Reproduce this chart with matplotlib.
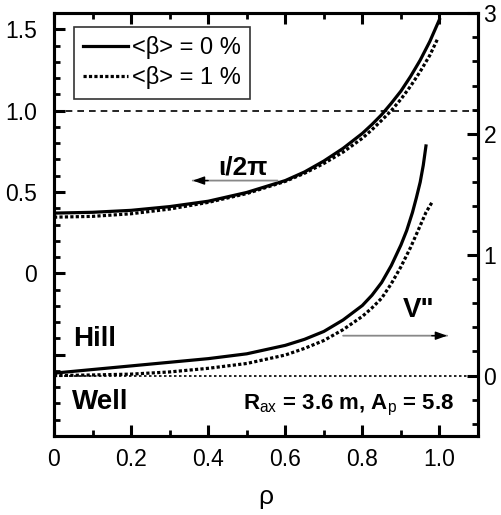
import matplotlib
matplotlib.use("Agg")
import matplotlib.pyplot as plt
from matplotlib.ticker import MultipleLocator

plt.rcParams['font.family'] = ['Liberation Sans', 'DejaVu Sans']
plt.rcParams['mathtext.fontset'] = 'custom'
plt.rcParams['mathtext.rm'] = 'Liberation Sans'
plt.rcParams['mathtext.bf'] = 'Liberation Sans:bold'

# iota/2pi (left axis)
rho_iota0 = [0, 0.1, 0.2, 0.3, 0.4, 0.5, 0.6, 0.65, 0.7, 0.75, 0.8, 0.825, 0.85, 0.875, 0.9, 0.925, 0.95, 0.975, 1.0]
iota0 = [0.37, 0.375, 0.387, 0.41, 0.443, 0.497, 0.57, 0.623, 0.69, 0.768, 0.86, 0.915, 0.975, 1.045, 1.12, 1.21, 1.31, 1.425, 1.56]
rho_iota1 = [0, 0.1, 0.2, 0.3, 0.4, 0.5, 0.6, 0.65, 0.7, 0.75, 0.8, 0.825, 0.85, 0.875, 0.9, 0.925, 0.95, 0.975, 0.995]
iota1 = [0.345, 0.35, 0.366, 0.395, 0.436, 0.49, 0.565, 0.615, 0.675, 0.745, 0.83, 0.883, 0.94, 1.0, 1.07, 1.15, 1.24, 1.34, 1.44]

# V'' (right axis)
rho_v0 = [0, 0.1, 0.2, 0.3, 0.4, 0.5, 0.6, 0.65, 0.7, 0.75, 0.8, 0.825, 0.85, 0.875, 0.9, 0.915, 0.93, 0.94, 0.95, 0.958, 0.965]
v0 = [0.02, 0.05, 0.08, 0.11, 0.14, 0.18, 0.25, 0.30, 0.365, 0.46, 0.58, 0.665, 0.77, 0.91, 1.08, 1.2, 1.35, 1.47, 1.6, 1.74, 1.9]
rho_v1 = [0, 0.1, 0.2, 0.3, 0.4, 0.5, 0.6, 0.65, 0.7, 0.75, 0.8, 0.825, 0.85, 0.875, 0.9, 0.925, 0.95, 0.965, 0.98]
v1 = [0.0, 0.005, 0.012, 0.03, 0.06, 0.10, 0.17, 0.225, 0.29, 0.38, 0.49, 0.56, 0.64, 0.76, 0.9, 1.06, 1.24, 1.35, 1.43]

labels = ['<β> = 0 %', '<β> = 1 %']
x_ticks = [0, 0.2, 0.4, 0.6, 0.8, 1.0]
x_ticklabels = ['0', '0.2', '0.4', '0.6', '0.8', '1.0']
left_ticks = [-0.5, 0, 0.5, 1.0, 1.5]
left_ticklabels = ['', '0', '0.5', '1.0', '1.5']
right_ticks = [0, 1, 2, 3]
right_ticklabels = ['0', '1', '2', '3']

fig = plt.figure(figsize=(5.02, 5.15), dpi=100)
ax = fig.add_axes([54/502, 1-436/515, (478-54)/502, (436-13)/515])
ax2 = ax.twinx()

dot = (0, (1.0, 0.7))
lw = 2.3
ax.plot(rho_iota0, iota0, color='black', lw=lw, label=labels[0])
ax.plot(rho_iota1, iota1, color='black', lw=lw, ls=dot, dash_capstyle='butt', label=labels[1])
ax2.plot(rho_v0, v0, color='black', lw=lw)
ax2.plot(rho_v1, v1, color='black', lw=lw, ls=dot, dash_capstyle='butt')

ax.axhline(1.0, color='black', lw=1.2, ls=(0, (4, 3)))
ax2.axhline(0.0, color='black', lw=1.2, ls=(0, (1.5, 1.5)))

ax.set_xlim(0, 1.1)
ax.set_ylim(-1.0, 1.6)
ax2.set_ylim(-0.5, 3.0)

ax.set_xticks(x_ticks)
ax.set_xticklabels(x_ticklabels)
ax.xaxis.set_minor_locator(MultipleLocator(0.1))
ax.set_yticks(left_ticks)
ax.set_yticklabels(left_ticklabels)
ax.yaxis.set_minor_locator(MultipleLocator(0.1))
ax2.set_yticks(right_ticks)
ax2.set_yticklabels(right_ticklabels)
ax2.yaxis.set_minor_locator(MultipleLocator(0.2))

for a in (ax, ax2):
    for s in a.spines.values():
        s.set_linewidth(2.2)
ax.tick_params(axis='both', which='major', direction='in', length=8, width=2.2, labelsize=16.5)
ax.tick_params(axis='both', which='minor', direction='in', length=4.5, width=2.0)
ax.tick_params(axis='x', which='both', top=True, pad=9)
ax.tick_params(axis='y', which='both', pad=12)
ax2.tick_params(axis='y', which='major', direction='in', length=8, width=2.2, labelsize=16.5, pad=4)
ax2.tick_params(axis='y', which='minor', direction='in', length=4.5, width=2.0)

ax.set_xlabel('ρ', fontsize=19, labelpad=10)

leg = ax.legend(loc='upper left', bbox_to_anchor=(0.047, 0.967), fontsize=17, frameon=True,
                fancybox=False, edgecolor='black', handlelength=1.9, handletextpad=0.15,
                borderpad=0.4, labelspacing=0.3, borderaxespad=0)
leg.get_frame().set_linewidth(1.2)

# arrows
ax.annotate('', xy=(0.36, 0.57), xytext=(0.58, 0.57),
            arrowprops=dict(arrowstyle='-', color='#888888', lw=1.3, shrinkA=0, shrinkB=0))
ax.annotate('', xy=(0.36, 0.57), xytext=(0.40, 0.57),
            arrowprops=dict(arrowstyle='-|>,head_length=0.7,head_width=0.25', color='black', lw=1,
                            shrinkA=0, shrinkB=0))
ax2.annotate('', xy=(1.02, 0.33), xytext=(0.75, 0.33),
             arrowprops=dict(arrowstyle='-', color='#888888', lw=1.3, shrinkA=0, shrinkB=0))
ax2.annotate('', xy=(1.02, 0.33), xytext=(0.98, 0.33),
             arrowprops=dict(arrowstyle='-|>,head_length=0.7,head_width=0.25', color='black', lw=1,
                             shrinkA=0, shrinkB=0))

ax.text(0.49, 0.65, 'ι/2π', fontsize=19, fontweight='bold', ha='center', va='center')
ax2.text(0.945, 0.545, 'V"', fontsize=20, fontweight='bold', ha='center', va='center')
ax2.text(0.05, 0.30, 'Hill', fontsize=20, fontweight='bold', ha='left', va='center')
ax2.text(0.047, -0.215, 'Well', fontsize=20, fontweight='bold', ha='left', va='center')
ax2.text(1.039, -0.28, r'R$_{\rm ax}$ = 3.6 m, A$_{\rm p}$ = 5.8', fontsize=16, fontweight='bold',
         ha='right', va='baseline')

fig.savefig('out.png', dpi=100)
